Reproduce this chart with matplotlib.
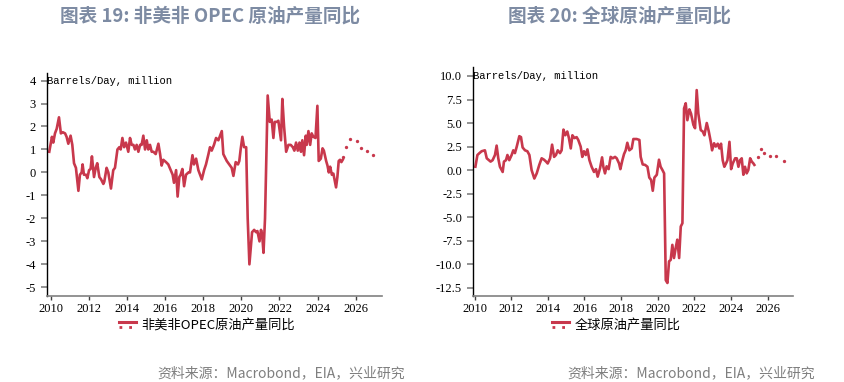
import matplotlib
matplotlib.use("Agg")
import matplotlib.pyplot as plt
from matplotlib.lines import Line2D
from matplotlib.legend_handler import HandlerBase
from matplotlib.transforms import blended_transform_factory

plt.rcParams['font.family'] = ['Noto Sans CJK SC', 'DejaVu Sans']
plt.rcParams['axes.unicode_minus'] = False

# ---- data (decimal years, million b/d) ----
nonus_years = [
    2009.91, 2010.05, 2010.12, 2010.21, 2010.30, 2010.42, 2010.52, 2010.62, 2010.74, 2010.82,
    2010.91, 2010.96, 2011.03, 2011.12, 2011.21, 2011.31, 2011.44, 2011.52, 2011.61, 2011.66,
    2011.73, 2011.84, 2011.91, 2012.00, 2012.08, 2012.15, 2012.26, 2012.35, 2012.43, 2012.54,
    2012.63, 2012.75, 2012.80, 2012.92, 2013.01, 2013.15, 2013.27, 2013.36, 2013.49, 2013.59,
    2013.66, 2013.75, 2013.84, 2013.94, 2014.06, 2014.15, 2014.24, 2014.33, 2014.41, 2014.50,
    2014.59, 2014.68, 2014.76, 2014.85, 2014.94, 2015.03, 2015.11, 2015.20, 2015.29, 2015.38,
    2015.50, 2015.64, 2015.73, 2015.81, 2015.90, 2016.04, 2016.16, 2016.29, 2016.39, 2016.46,
    2016.57, 2016.65, 2016.74, 2016.81, 2016.90, 2016.99, 2017.09, 2017.22, 2017.30, 2017.43,
    2017.51, 2017.62, 2017.74, 2017.92, 2018.04, 2018.14, 2018.27, 2018.35, 2018.44, 2018.56,
    2018.67, 2018.79, 2018.97, 2019.05, 2019.23, 2019.36, 2019.49, 2019.58, 2019.70, 2019.82,
    2019.89, 2019.96, 2020.05, 2020.14, 2020.25, 2020.33, 2020.42, 2020.56, 2020.67, 2020.77,
    2020.84, 2020.95, 2021.03, 2021.09, 2021.16, 2021.24, 2021.38, 2021.49, 2021.59, 2021.68,
    2021.75, 2021.86, 2021.94, 2022.08, 2022.15, 2022.24, 2022.35, 2022.47, 2022.59, 2022.70,
    2022.78, 2022.87, 2022.96, 2023.05, 2023.13, 2023.20, 2023.29, 2023.38, 2023.43, 2023.52,
    2023.61, 2023.69, 2023.78, 2023.89, 2023.99, 2024.06, 2024.17, 2024.26, 2024.33, 2024.45,
    2024.52, 2024.59, 2024.66, 2024.75, 2024.83, 2024.89, 2024.97, 2025.04, 2025.11, 2025.18,
    2025.25, 2025.32,
]
nonus_vals = [
    0.9, 1.55, 1.3, 1.7, 1.9, 2.4, 1.7, 1.75, 1.7, 1.55,
    1.25, 1.4, 1.6, 1.2, 0.4, 0.2, -0.8, -0.1, 0.0, 0.35,
    -0.1, -0.1, -0.25, 0.1, 0.15, 0.7, -0.2, 0.2, 0.4, -0.2,
    -0.3, -0.5, -0.4, 0.2, 0.0, -0.7, 0.1, 0.2, 1.0, 1.1,
    1.0, 1.5, 1.1, 1.3, 0.9, 1.5, 1.2, 1.2, 1.0, 1.2,
    0.9, 1.2, 1.2, 1.6, 1.0, 1.4, 1.0, 1.2, 0.9, 0.9,
    0.8, 1.25, 0.8, 0.3, 0.55, 0.45, 0.35, 0.1, -0.1, -0.45,
    0.1, -1.05, -0.2, -0.1, 0.15, -0.6, -0.1, 0.0, 0.0, 0.75,
    0.35, 0.6, 0.1, -0.3, 0.1, 0.35, 0.8, 1.1, 0.95, 1.2,
    1.5, 1.4, 1.8, 0.8, 0.5, 0.35, 0.2, -0.15, 0.45, 0.35,
    0.5, 1.0, 1.55, 1.1, 1.1, -2.0, -4.0, -2.6, -2.5, -2.6,
    -2.55, -3.0, -2.5, -2.7, -3.5, -2.0, 3.35, 2.2, 2.3, 1.5,
    2.2, 2.2, 2.25, 1.4, 3.2, 2.0, 0.9, 1.2, 1.2, 1.1,
    0.95, 1.3, 0.95, 1.3, 0.9, 1.4, 0.75, 1.6, 1.2, 1.8,
    1.2, 1.7, 1.55, 1.5, 2.9, 0.5, 0.6, 1.05, 0.95, 0.5,
    0.3, 0.0, 0.25, -0.1, -0.05, -0.3, -0.65, -0.2, 0.5, 0.55,
    0.45, 0.55,
]
nonus_fc_years = [2025.35, 2025.51, 2025.69, 2026.07, 2026.26, 2026.58, 2026.93]
nonus_fc_vals = [0.69, 1.10, 1.45, 1.36, 1.05, 0.92, 0.78]

world_years = [
    2010.04, 2010.15, 2010.26, 2010.38, 2010.56, 2010.66, 2010.75, 2010.87, 2010.98, 2011.11,
    2011.20, 2011.29, 2011.38, 2011.53, 2011.60, 2011.71, 2011.79, 2011.89, 2012.02, 2012.11,
    2012.20, 2012.30, 2012.44, 2012.53, 2012.62, 2012.75, 2012.88, 2012.99, 2013.11, 2013.26,
    2013.39, 2013.53, 2013.66, 2013.79, 2013.90, 2013.99, 2014.12, 2014.23, 2014.34, 2014.44,
    2014.54, 2014.66, 2014.75, 2014.85, 2014.95, 2015.06, 2015.15, 2015.25, 2015.34, 2015.45,
    2015.57, 2015.66, 2015.79, 2015.88, 2015.97, 2016.07, 2016.16, 2016.27, 2016.39, 2016.52,
    2016.63, 2016.72, 2016.85, 2016.96, 2017.03, 2017.12, 2017.21, 2017.32, 2017.43, 2017.54,
    2017.67, 2017.76, 2017.89, 2017.96, 2018.07, 2018.16, 2018.25, 2018.34, 2018.45, 2018.58,
    2018.67, 2018.85, 2019.00, 2019.07, 2019.18, 2019.31, 2019.44, 2019.54, 2019.64, 2019.73,
    2019.82, 2019.95, 2020.07, 2020.16, 2020.26, 2020.35, 2020.44, 2020.53, 2020.62, 2020.71,
    2020.80, 2020.89, 2020.98, 2021.07, 2021.17, 2021.26, 2021.35, 2021.44, 2021.53, 2021.62,
    2021.73, 2021.82, 2021.95, 2022.04, 2022.13, 2022.22, 2022.35, 2022.46, 2022.55, 2022.68,
    2022.79, 2022.90, 2022.97, 2023.08, 2023.17, 2023.28, 2023.37, 2023.46, 2023.55, 2023.64,
    2023.73, 2023.81, 2023.92, 2024.01, 2024.10, 2024.23, 2024.32, 2024.41, 2024.50, 2024.59,
    2024.68, 2024.77, 2024.86, 2024.95, 2025.05, 2025.14, 2025.23, 2025.28,
]
world_vals = [
    0.36, 1.6, 1.8, 2.0, 2.1, 1.25, 1.1, 0.9, 1.05, 1.6,
    2.6, 1.25, 0.35, -0.2, 0.9, 1.05, 1.6, 1.05, 1.6, 2.1,
    1.8, 2.5, 3.6, 3.5, 2.4, 2.1, 2.0, 1.6, 0.0, -0.9,
    -0.35, 0.55, 1.25, 1.1, 0.9, 0.7, 1.25, 2.7, 1.4, 1.6,
    2.1, 1.8, 2.1, 4.3, 3.7, 4.1, 3.4, 2.3, 3.7, 3.4,
    3.5, 3.2, 2.5, 1.4, 2.0, 1.6, 2.2, 1.05, 0.35, -0.2,
    0.1, -0.7, 0.2, 1.35, 0.35, -0.35, 0.4, 0.1, 1.4, 1.25,
    1.4, 1.25, 0.7, 0.1, 1.05, 1.7, 2.1, 2.9, 2.1, 2.3,
    3.3, 3.3, 3.2, 1.4, 0.6, 0.55, 0.35, -0.8, -1.05, -2.2,
    -0.8, -0.5, 1.1, 0.35, 0.0, -0.35, -11.7, -12.0, -9.7, -9.55,
    -7.95, -9.35, -8.3, -7.4, -9.35, -6.0, -5.65, 6.55, 7.1, 5.3,
    6.45, 6.0, 4.8, 4.45, 8.5, 6.0, 4.25, 4.1, 3.7, 5.0,
    4.1, 3.0, 2.1, 2.85, 2.5, 2.8, 2.3, 2.8, 1.05, 0.35,
    0.7, 1.05, 3.0, 0.1, 0.7, 1.25, 1.25, 0.35, 1.05, 1.25,
    -0.5, 0.35, -0.35, 0.0, 1.25, 0.9, 0.7, 0.55,
]
world_fc_years = [2025.49, 2025.65, 2025.80, 2026.13, 2026.46, 2026.89]
world_fc_vals = [1.35, 2.27, 1.84, 1.46, 1.46, 0.93]

year_ticks = [2010, 2012, 2014, 2016, 2018, 2020, 2022, 2024, 2026]
nonus_yticks = [4, 3, 2, 1, 0, -1, -2, -3, -4, -5]
world_yticks = [10.0, 7.5, 5.0, 2.5, 0.0, -2.5, -5.0, -7.5, -10.0, -12.5]

LINE = '#c8384c'
TITLE_C = '#7d8ba3'
SRC_C = '#7f7f7f'
TICK_FONT = 'Liberation Serif'


class SolidOverDots(HandlerBase):
    # legend key: solid line with the dotted forecast style just beneath it
    def create_artists(self, legend, orig_handle, xdescent, ydescent,
                       width, height, fontsize, trans):
        y = height / 2 - ydescent
        top = Line2D([0, width], [y + 1.2, y + 1.2], color=LINE, lw=2.2, transform=trans)
        bot = Line2D([0, width], [y - 2.0, y - 2.0], color=LINE, lw=2.0,
                     ls=(0, (1, 2.5)), transform=trans)
        return [top, bot]


def draw_panel(ax, xs, ys, fx, fy, yticks, ylim, xlim, fmt, ytop, label, legend_x):
    ax.plot(xs, ys, color=LINE, lw=1.9, solid_joinstyle='round')
    ax.plot(fx, fy, color=LINE, ls='none', marker='o', ms=2.4, mew=0)
    ax.set_xlim(*xlim)
    ax.set_ylim(*ylim)
    ax.set_xticks(year_ticks)
    ax.set_xticklabels([str(y) for y in year_ticks], fontfamily=TICK_FONT, fontsize=9)
    ax.set_yticks(yticks)
    ax.set_yticklabels([fmt.format(v) for v in yticks], fontfamily=TICK_FONT, fontsize=9)
    for s in ['top', 'right']:
        ax.spines[s].set_visible(False)
    ax.spines['left'].set_color('black')
    ax.spines['left'].set_linewidth(1.0)
    ax.spines['bottom'].set_color('#808080')
    ax.spines['bottom'].set_linewidth(1.2)
    ax.tick_params(axis='y', length=4, width=1.2, color='#808080', pad=4)
    ax.tick_params(axis='x', length=3, width=1.0, color='#404040', pad=2)
    trans = blended_transform_factory(ax.transAxes, ax.transData)
    ax.text(0.0, ytop, 'Barrels/Day, million', transform=trans, ha='left', va='center',
            fontfamily='Liberation Mono', fontsize=7.6, color='black')
    key = Line2D([], [], color=LINE)
    fig.legend([key], [label], handler_map={Line2D: SolidOverDots()},
               loc='center', bbox_to_anchor=(legend_x, 0.149), frameon=False,
               fontsize=9.5, handlelength=1.3, handletextpad=0.4)


fig = plt.figure(figsize=(8.45, 3.82), dpi=100)
ax1 = fig.add_axes([0.0556, 0.225, 0.3964, 0.584])
ax2 = fig.add_axes([0.560, 0.226, 0.378, 0.598])

draw_panel(ax1, nonus_years, nonus_vals, nonus_fc_years, nonus_fc_vals,
           nonus_yticks, (-5.38, 4.33), (2009.79, 2027.38), '{:g}', 4,
           '非美非OPEC原油产量同比', 0.245)
draw_panel(ax2, world_years, world_vals, world_fc_years, world_fc_vals,
           world_yticks, (-13.35, 10.93), (2009.92, 2027.37), '{:.1f}', 10.0,
           '全球原油产量同比', 0.729)

fig.text(60 / 845, 1 - 16 / 382, '图表 19: 非美非 OPEC 原油产量同比', ha='left', va='center',
         fontsize=13.4, fontweight='bold', color=TITLE_C)
fig.text(508 / 845, 1 - 16 / 382, '图表 20: 全球原油产量同比', ha='left', va='center',
         fontsize=13.4, fontweight='bold', color=TITLE_C)
fig.text(405 / 845, 1 - 373 / 382, '资料来源：Macrobond，EIA，兴业研究', ha='right', va='center',
         fontsize=10, color=SRC_C)
fig.text(815 / 845, 1 - 373 / 382, '资料来源：Macrobond，EIA，兴业研究', ha='right', va='center',
         fontsize=10, color=SRC_C)

fig.savefig('out.png', dpi=100)
